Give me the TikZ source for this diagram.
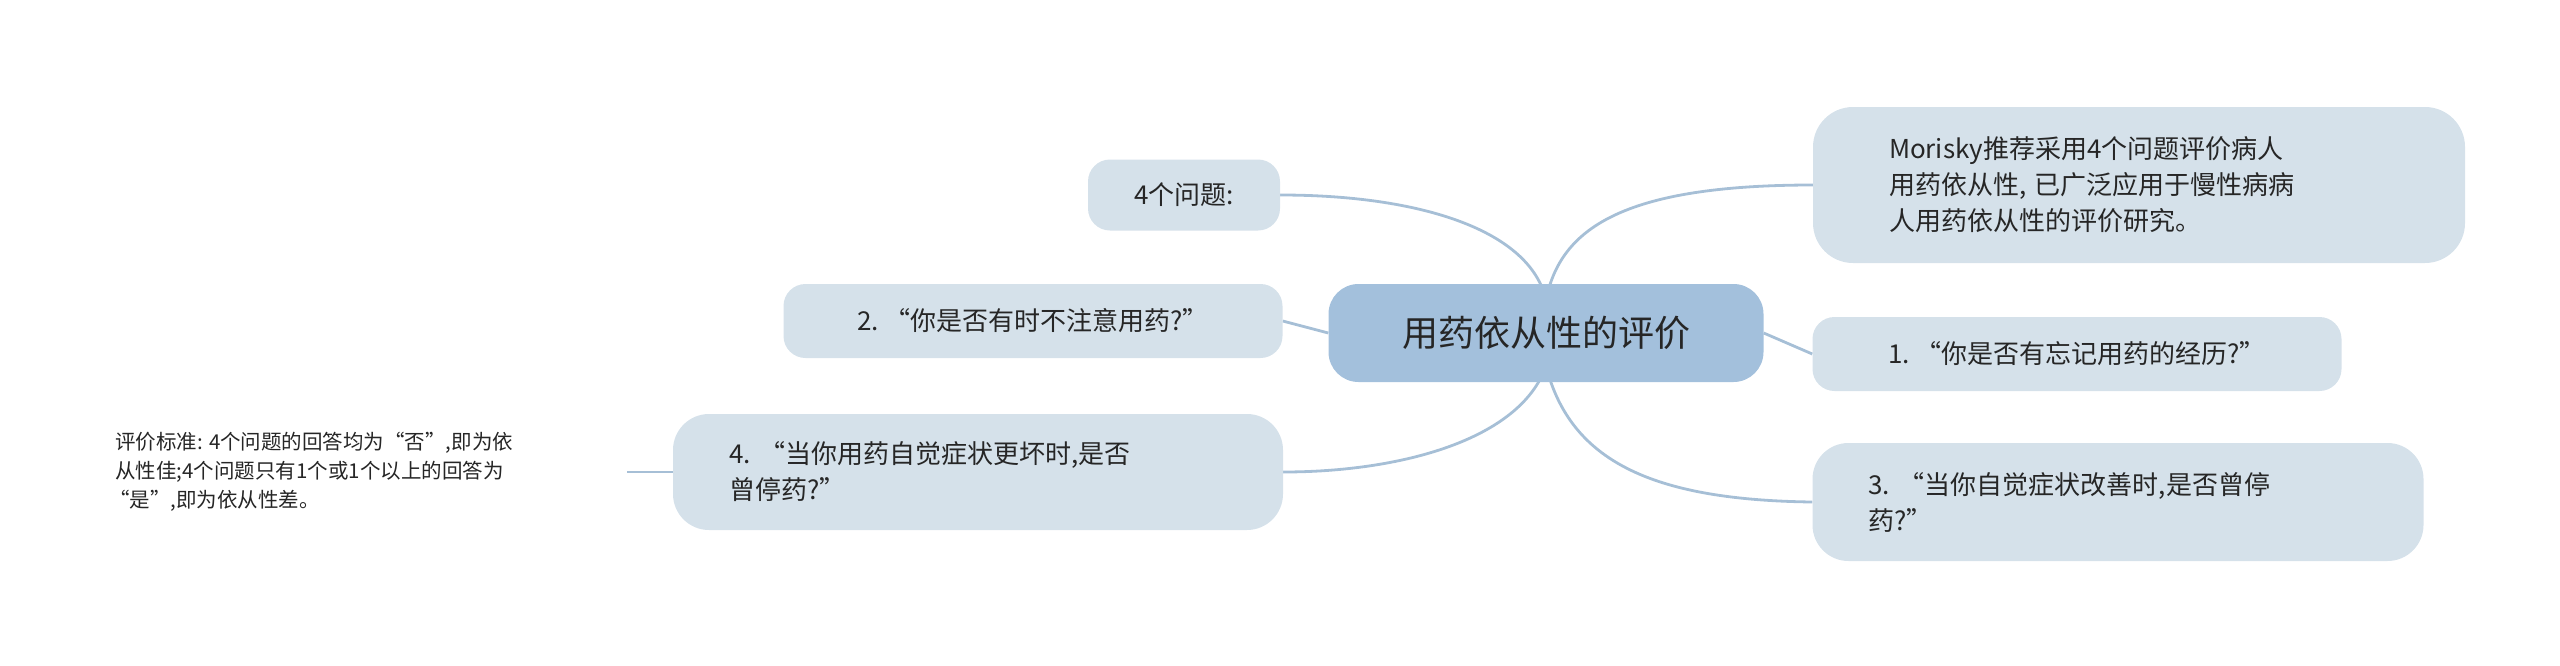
\documentclass[tikz,border=0pt]{standalone}
\usepackage{fontspec}
\setmainfont{Noto Sans CJK SC}
\usetikzlibrary{backgrounds}
\definecolor{cfill}{HTML}{A3C0DC}
\definecolor{nfill}{HTML}{D5E1EA}
\definecolor{lcol}{HTML}{A6BFD6}
\tikzset{
 topic/.style={fill=nfill, rounded corners=22pt, inner xsep=22pt, inner ysep=8pt, align=left, font=\fontsize{26}{36}\selectfont, text=black!85},
 link/.style={draw=lcol, line width=2.8pt}
}
\begin{document}
\begin{tikzpicture}[x=1pt,y=-1pt]
\useasboundingbox (0,0) rectangle (2560,665);
\node[fill=cfill, rounded corners=30pt, minimum width=435pt, minimum height=98pt, font=\fontsize{36}{44}\selectfont, text=black!85] (c) at (1546,333) {用药依从性的评价};
\node[topic, rounded corners=40pt, minimum height=156pt, inner xsep=76pt, text width=500pt] (r0) at (2139,185) {Morisky推荐采用4个问题评价病人\\用药依从性, 已广泛应用于慢性病病\\人用药依从性的评价研究。};
\node[topic, minimum width=529pt, minimum height=74pt] (r1) at (2077,354) {1.\ “你是否有忘记用药的经历?”};
\node[topic, rounded corners=36pt, minimum height=118pt, inner xsep=56pt, text width=499pt] (r3) at (2118,502) {3.\ “当你自觉症状改善时,是否曾停\\药?”};
\node[topic, minimum width=192pt, minimum height=71pt] (l0) at (1184,195) {4个问题:};
\node[topic, minimum width=499pt, minimum height=74pt] (l2) at (1033,321) {2.\ “你是否有时不注意用药?”};
\node[topic, rounded corners=36pt, minimum height=116pt, inner xsep=56pt, text width=498pt] (l4) at (978,472) {4.\ “当你用药自觉症状更坏时,是否\\曾停药?”};
\node[align=left, font=\fontsize{20.5}{29}\selectfont, text=black!85, anchor=west, inner sep=0pt] (leaf) at (115,472) {评价标准: 4个问题的回答均为“否”,即为依\\从性佳;4个问题只有1个或1个以上的回答为\\\hspace*{-6pt}“是”,即为依从性差。};
\begin{scope}[on background layer]
\draw[link] (1546,300) .. controls (1560,230) and (1620,185) .. (r0.west);
\draw[link] (c.east) -- (r1.west);
\draw[link] (1546,366) .. controls (1570,460) and (1650,500) .. (r3.west);
\draw[link] (1546,300) .. controls (1530,230) and (1420,195) .. (l0.east);
\draw[link] (c.west) -- (l2.east);
\draw[link] (1546,366) .. controls (1520,440) and (1400,472) .. (l4.east);
\draw[link] (l4.west) -- (627,472);
\end{scope}
\end{tikzpicture}
\end{document}
